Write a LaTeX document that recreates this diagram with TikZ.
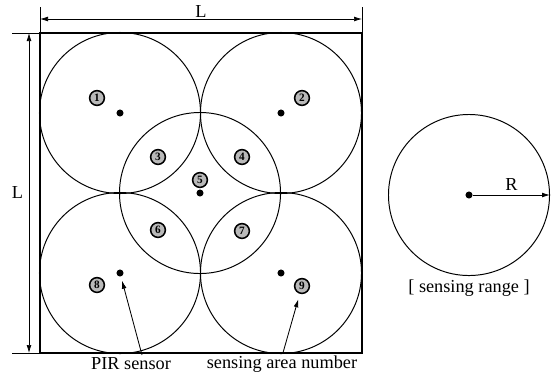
\documentclass[tikz,border=0pt]{standalone}
\usepackage{fontspec}
\setmainfont{Liberation Serif}
\usetikzlibrary{arrows.meta, positioning, calc}

\begin{document}
\begin{tikzpicture}[
  x=0.025cm, y=-0.025cm,
  font=\fontsize{13}{15}\selectfont,
  zone/.style={circle, draw, line width=0.7pt, minimum size=4.025cm, inner sep=0pt},
  sensor/.style={circle, fill=black, inner sep=0pt, minimum size=5pt},
  num/.style={circle, draw, line width=1.1pt, fill=gray!55, inner sep=0pt,
              minimum size=10.5pt, font=\fontsize{8}{8}\selectfont\bfseries},
  dim/.style={{Latex[length=2mm, width=1.2mm]}-{Latex[length=2mm, width=1.2mm]}, line width=0.5pt},
  arr/.style={-{Latex[length=2mm, width=1.2mm]}, line width=0.6pt}
]
%% page frame (pixel grid of the reference)
\path[use as bounding box] (0,0) rectangle (556,383);
%% area square
\coordinate (sq_nw) at (40,33);
\coordinate (sq_ne) at (362,33);
\coordinate (sq_sw) at (40,353);
\coordinate (sq_se) at (362,353);
\draw[line width=1.3pt] (sq_nw) rectangle (sq_se);
%% sensing zones (circles) and PIR sensors
\node[zone] (z1) at (120,113) {};
\node[zone] (z2) at (281,113) {};
\node[zone] (z5) at (200,193) {};
\node[zone] (z8) at (120,273) {};
\node[zone] (z9) at (281,273) {};
\foreach \z in {1,2,5,8,9}
  \node[sensor] (s\z) at (z\z.center) {};
%% sensing area numbers
\node[num] (n1) at (97,98)   {1};
\node[num] (n2) at (302,98)  {2};
\node[num] (n3) at (158,157) {3};
\node[num] (n4) at (242,157) {4};
\node[num] (n5) at (200,180) {5};
\node[num] (n6) at (158,230) {6};
\node[num] (n7) at (242,231) {7};
\node[num] (n8) at (97,285)  {8};
\node[num] (n9) at (302,286) {9};
%% dimension lines
\coordinate (top_l) at (40,19);
\coordinate (top_r) at (362,19);
\draw[line width=0.5pt] (40,7) -- (sq_nw);
\draw[line width=0.5pt] (362,7) -- (sq_ne);
\draw[dim] (top_l) -- (top_r) node[midway, above, inner sep=1pt] (dim_top) {L};
\coordinate (left_t) at (29,33);
\coordinate (left_b) at (29,353);
\draw[line width=0.5pt] (12,33) -- (sq_nw);
\draw[line width=0.5pt] (12,353) -- (sq_sw);
\draw[dim] (left_t) -- (left_b) node[midway, left, inner sep=4pt] (dim_left) {L};
%% legend: sensing range
\node[zone] (zr) at (469,195) {};
\node[sensor] (sr) at (zr.center) {};
\draw[arr] (sr) -- (zr.east) node[midway, above, inner sep=3pt] (lbl_r) {R};
\node (lbl_range) at (469,288) {[ sensing range ]};
%% callouts
\node (lbl_pir) at (131,364) {PIR sensor};
\node (lbl_num) at (282,364) {sensing area number};
\draw[arr, shorten >=3pt] ($(lbl_pir.north)+(11,2)$) -- (s8);
\draw[arr, shorten >=4pt] ($(lbl_num.north)+(1,2)$) -- (n9);
\end{tikzpicture}
\end{document}
